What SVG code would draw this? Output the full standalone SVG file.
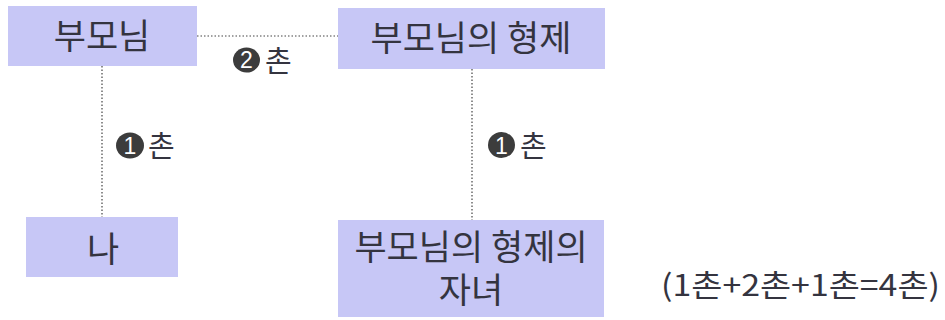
<svg xmlns="http://www.w3.org/2000/svg" width="945" height="320" viewBox="0 0 945 320">
<style>
.box{fill:#c7c7f6;}
.t{font-family:"Noto Sans CJK KR","Noto Sans",sans-serif;font-size:35px;fill:#34343f;text-anchor:middle;}
.lab{font-family:"Noto Sans CJK KR","Noto Sans",sans-serif;font-size:29px;fill:#34343f;}
.num{font-family:"Liberation Sans",sans-serif;font-size:23px;fill:#ffffff;text-anchor:middle;}
.dot{fill:#3c3c3c;}
.ln{stroke:#444;stroke-width:1.2;stroke-dasharray:1.5 2;fill:none;}
</style>
<rect width="945" height="320" fill="#ffffff"/>
<g id="connectors">
<line class="ln" x1="197" y1="36" x2="339" y2="36"/>
<line class="ln" x1="102" y1="66" x2="102" y2="217"/>
<line class="ln" x1="472" y1="69" x2="472" y2="230"/>
</g>
<g id="node-parents">
<rect class="box" x="8" y="6" width="189" height="60"/>
<text class="t" x="102" y="49">부모님</text>
</g>
<g id="node-parents-siblings">
<rect class="box" x="338" y="8" width="267" height="61"/>
<text class="t" x="471" y="51">부모님의 형제</text>
</g>
<g id="node-me">
<rect class="box" x="26" y="217" width="152" height="60"/>
<text class="t" x="103" y="262">나</text>
</g>
<g id="node-cousins">
<rect class="box" x="338" y="220" width="266" height="97"/>
<text class="t" x="471" y="260">부모님의 형제의<tspan x="471" y="303">자녀</tspan></text>
</g>
<g id="label-2">
<ellipse class="dot" cx="246.5" cy="60" rx="13.5" ry="12.5"/>
<text class="num" x="246.5" y="68">2</text>
<text class="lab" x="265" y="71.5">촌</text>
</g>
<g id="label-1-left">
<ellipse class="dot" cx="130" cy="145.5" rx="14" ry="13"/>
<text class="num" x="130" y="154">1</text>
<text class="lab" x="148" y="156.5">촌</text>
</g>
<g id="label-1-right">
<ellipse class="dot" cx="501.5" cy="145" rx="13.5" ry="13"/>
<text class="num" x="501.5" y="153.5">1</text>
<text class="lab" x="520" y="156.5">촌</text>
</g>
<text x="661" y="296" font-family="'Noto Sans CJK KR','Noto Sans',sans-serif" font-size="30" fill="#34343f" textLength="279" lengthAdjust="spacingAndGlyphs">(1촌+2촌+1촌=4촌)</text>
</svg>
